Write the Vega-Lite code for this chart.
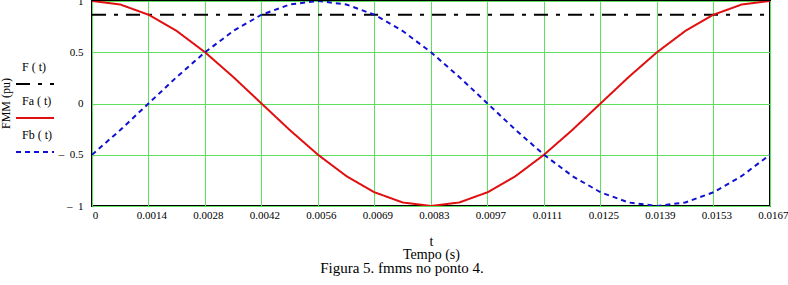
{
  "$schema": "https://vega.github.io/schema/vega-lite/v6.json",
  "width": 678,
  "height": 205,
  "autosize": {"type": "none"},
  "padding": {"left": 92, "top": 1, "right": 18, "bottom": 79},
  "background": "white",
  "title": {
    "text": "Figura 5. fmms no ponto 4.",
    "orient": "bottom",
    "anchor": "middle",
    "fontSize": 15,
    "fontWeight": "normal",
    "font": "Liberation Serif",
    "color": "#000",
    "dx": -29,
    "offset": 0
  },
  "data": {
    "values": [
      {"t": 0, "v": 0.866, "s": "F ( t)"},
      {"t": 0.0166667, "v": 0.866, "s": "F ( t)"},
      {"t": 0, "v": 1, "s": "Fa ( t)"},
      {"t": 0.000694444, "v": 0.9659, "s": "Fa ( t)"},
      {"t": 0.001388889, "v": 0.866, "s": "Fa ( t)"},
      {"t": 0.002083333, "v": 0.7071, "s": "Fa ( t)"},
      {"t": 0.002777778, "v": 0.5, "s": "Fa ( t)"},
      {"t": 0.003472222, "v": 0.2588, "s": "Fa ( t)"},
      {"t": 0.004166667, "v": 0, "s": "Fa ( t)"},
      {"t": 0.004861111, "v": -0.2588, "s": "Fa ( t)"},
      {"t": 0.005555556, "v": -0.5, "s": "Fa ( t)"},
      {"t": 0.00625, "v": -0.7071, "s": "Fa ( t)"},
      {"t": 0.006944444, "v": -0.866, "s": "Fa ( t)"},
      {"t": 0.007638889, "v": -0.9659, "s": "Fa ( t)"},
      {"t": 0.008333333, "v": -1, "s": "Fa ( t)"},
      {"t": 0.009027778, "v": -0.9659, "s": "Fa ( t)"},
      {"t": 0.009722222, "v": -0.866, "s": "Fa ( t)"},
      {"t": 0.010416667, "v": -0.7071, "s": "Fa ( t)"},
      {"t": 0.011111111, "v": -0.5, "s": "Fa ( t)"},
      {"t": 0.011805556, "v": -0.2588, "s": "Fa ( t)"},
      {"t": 0.0125, "v": 0, "s": "Fa ( t)"},
      {"t": 0.013194444, "v": 0.2588, "s": "Fa ( t)"},
      {"t": 0.013888889, "v": 0.5, "s": "Fa ( t)"},
      {"t": 0.014583333, "v": 0.7071, "s": "Fa ( t)"},
      {"t": 0.015277778, "v": 0.866, "s": "Fa ( t)"},
      {"t": 0.015972222, "v": 0.9659, "s": "Fa ( t)"},
      {"t": 0.0166667, "v": 1, "s": "Fa ( t)"},
      {"t": 0, "v": -0.5, "s": "Fb ( t)"},
      {"t": 0.000694444, "v": -0.2588, "s": "Fb ( t)"},
      {"t": 0.001388889, "v": 0, "s": "Fb ( t)"},
      {"t": 0.002083333, "v": 0.2588, "s": "Fb ( t)"},
      {"t": 0.002777778, "v": 0.5, "s": "Fb ( t)"},
      {"t": 0.003472222, "v": 0.7071, "s": "Fb ( t)"},
      {"t": 0.004166667, "v": 0.866, "s": "Fb ( t)"},
      {"t": 0.004861111, "v": 0.9659, "s": "Fb ( t)"},
      {"t": 0.005555556, "v": 1, "s": "Fb ( t)"},
      {"t": 0.00625, "v": 0.9659, "s": "Fb ( t)"},
      {"t": 0.006944444, "v": 0.866, "s": "Fb ( t)"},
      {"t": 0.007638889, "v": 0.7071, "s": "Fb ( t)"},
      {"t": 0.008333333, "v": 0.5, "s": "Fb ( t)"},
      {"t": 0.009027778, "v": 0.2588, "s": "Fb ( t)"},
      {"t": 0.009722222, "v": 0, "s": "Fb ( t)"},
      {"t": 0.010416667, "v": -0.2588, "s": "Fb ( t)"},
      {"t": 0.011111111, "v": -0.5, "s": "Fb ( t)"},
      {"t": 0.011805556, "v": -0.7071, "s": "Fb ( t)"},
      {"t": 0.0125, "v": -0.866, "s": "Fb ( t)"},
      {"t": 0.013194444, "v": -0.9659, "s": "Fb ( t)"},
      {"t": 0.013888889, "v": -1, "s": "Fb ( t)"},
      {"t": 0.014583333, "v": -0.9659, "s": "Fb ( t)"},
      {"t": 0.015277778, "v": -0.866, "s": "Fb ( t)"},
      {"t": 0.015972222, "v": -0.7071, "s": "Fb ( t)"},
      {"t": 0.0166667, "v": -0.5, "s": "Fb ( t)"}
    ]
  },
  "mark": {"type": "line", "strokeWidth": 2, "clip": true},
  "encoding": {
    "x": {
      "field": "t",
      "type": "quantitative",
      "scale": {"domain": [0, 0.0166667], "nice": false, "zero": false},
      "axis": {
        "values": [0, 0.00138889, 0.00277778, 0.00416667, 0.00555556, 0.00694444, 0.00833333, 0.00972222, 0.01111111, 0.0125, 0.01388889, 0.01527778, 0.01666667],
        "labelExpr": "datum.value == 0 ? '0' : format(datum.value, '.4f')",
        "title": ["t", "Tempo (s)"],
        "titleFontSize": 14,
        "titleLineHeight": 13,
        "titlePadding": 14,
        "labelOffset": 3,
        "labelPadding": 3,
        "labelFlush": false
      }
    },
    "y": {
      "field": "v",
      "type": "quantitative",
      "scale": {"domain": [-1, 1], "nice": false},
      "axis": {
        "values": [-1, -0.5, 0, 0.5, 1],
        "labelExpr": "datum.value < 0 ? '–\u00a0\u00a0' + format(-datum.value, '') : format(datum.value, '')",
        "title": "FMM (pu)",
        "titleX": -80,
        "titleY": 102,
        "titleFontSize": 12,
        "labelPadding": 9,
        "labelFlush": false
      }
    },
    "color": {
      "field": "s",
      "type": "nominal",
      "scale": {"domain": ["F ( t)", "Fa ( t)", "Fb ( t)"], "range": ["#000000", "#e01010", "#1010d0"]},
      "legend": {
        "title": null,
        "orient": "none",
        "legendX": -77,
        "legendY": 63,
        "symbolType": "stroke",
        "symbolSize": 1444,
        "symbolStrokeWidth": 2,
        "labelOffset": -33,
        "labelFontSize": 12,
        "rowPadding": 7,
        "padding": 0,
        "encoding": {"labels": {"dy": {"value": -17}}}
      }
    },
    "strokeDash": {
      "field": "s",
      "type": "nominal",
      "scale": {"domain": ["F ( t)", "Fa ( t)", "Fb ( t)"], "range": [[14, 8, 4, 8], [1, 0], [5, 4]]},
      "legend": {
        "title": null,
        "orient": "none",
        "legendX": -77,
        "legendY": 63,
        "symbolType": "stroke",
        "symbolSize": 1444,
        "symbolStrokeWidth": 2,
        "labelOffset": -33,
        "labelFontSize": 12,
        "rowPadding": 7,
        "padding": 0,
        "encoding": {"labels": {"dy": {"value": -17}}}
      }
    }
  },
  "config": {
    "font": "Liberation Serif",
    "view": {"stroke": "#000", "strokeWidth": 2},
    "axis": {
      "grid": true,
      "gridColor": "#5ee05e",
      "gridOpacity": 1,
      "gridWidth": 1,
      "ticks": false,
      "tickSize": 0,
      "domain": false,
      "labelFont": "Liberation Serif",
      "labelFontSize": 11,
      "labelColor": "#000",
      "titleFont": "Liberation Serif",
      "titleFontWeight": "normal",
      "titleColor": "#000"
    },
    "legend": {
      "labelFont": "Liberation Serif",
      "labelColor": "#000"
    }
  }
}
